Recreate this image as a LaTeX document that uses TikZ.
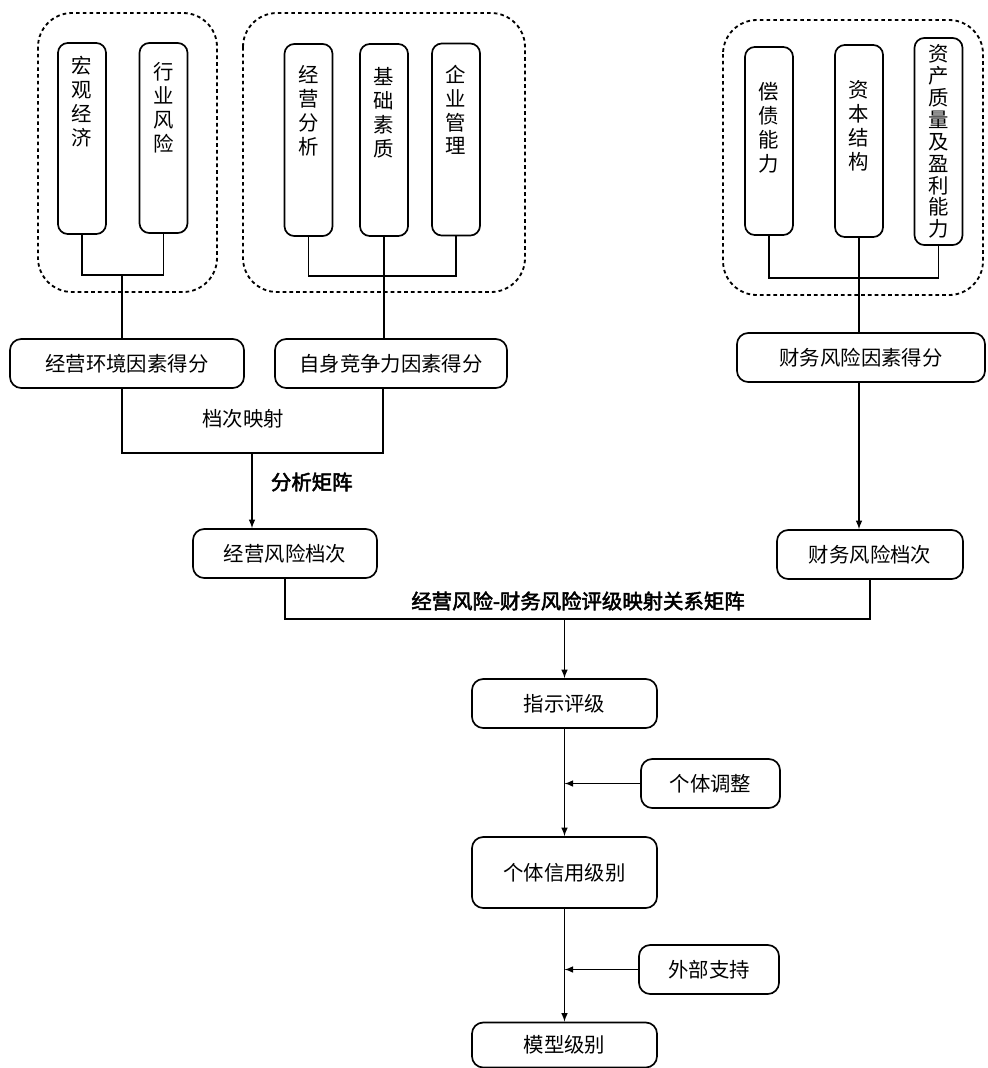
\documentclass[tikz,border=0pt]{standalone}
\usepackage{fontspec}
\newfontfamily\cjk[AutoFakeBold=2.5]{Noto Sans CJK SC}
\usepackage{tikz}

\tikzset{
  box/.style={draw, line width=1.2pt, rounded corners=8pt, inner sep=0pt, minimum height=1.225cm},
  vbox/.style={draw, line width=1.2pt, rounded corners=7pt, inner sep=0pt, minimum width=1.2cm},
  grp/.style={line width=1.3pt, dash pattern=on 2.6pt off 2.2pt, rounded corners=0.85cm},
  vtxt/.style={anchor=north, align=center, inner sep=0pt},
  link/.style={line width=1.1pt},
  arr/.style={link, -latex},
}

\begin{document}
\begin{tikzpicture}[x=0.025cm, y=-0.025cm, font=\cjk\fontsize{14.5}{17}\selectfont]

        \useasboundingbox (0,0) rectangle (988,1068);

        % dashed groups
        \draw[grp] (38,13) rectangle (217,292);
        \draw[grp] (243,13) rectangle (525,292);
        \draw[grp] (723,20) rectangle (983,295);

        % factor boxes
        \node[vbox, minimum height=4.775cm, label={[vtxt,yshift=-0.35cm]north:{宏\\观\\经\\济}}] (hg) at (82,138.5) {};
        \node[vbox, minimum height=4.75cm, label={[vtxt,yshift=-0.5cm]north:{行\\业\\风\\险}}] (hy) at (163.5,138) {};
        \node[vbox, minimum height=4.8cm, label={[vtxt,yshift=-0.55cm]north:{经\\营\\分\\析}}] (jf) at (308.5,140) {};
        \node[vbox, minimum height=4.8cm, label={[vtxt,yshift=-0.6cm]north:{基\\础\\素\\质}}] (jc) at (384,140) {};
        \node[vbox, minimum height=4.8cm, label={[vtxt,yshift=-0.55cm]north:{企\\业\\管\\理}}] (qg) at (456,139.5) {};
        \node[vbox, minimum height=4.7cm, label={[vtxt,yshift=-0.9cm]north:{偿\\债\\能\\力}}] (ch) at (769,141) {};
        \node[vbox, minimum height=4.8cm, label={[vtxt,yshift=-0.9cm]north:{资\\本\\结\\构}}] (zb) at (859,141) {};
        \node[vbox, minimum height=5.175cm, label={[vtxt,anchor=center,font=\cjk\fontsize{14.5}{15.6}\selectfont]center:{资\\产\\质\\量\\及\\盈\\利\\能\\力}}] (zl) at (938.5,141.5) {};

        % brackets
        \coordinate (b1) at (122,275);
        \coordinate (b2) at (383,276);
        \coordinate (b3) at (859,278);
        \coordinate (b4) at (252,453);
        \coordinate (b5) at (564.5,619);

        % score boxes
        \node[box, minimum width=5.85cm] (jy) at (127,363.5) {经营环境因素得分};
        \node[box, minimum width=5.8cm] (zs) at (391,363.5) {自身竞争力因素得分};
        \node[box, minimum width=6.2cm] (cw) at (861,357.5) {财务风险因素得分};

        \node[box, minimum width=4.6cm] (jyfx) at (285,553.5) {经营风险档次};
        \node[box, minimum width=4.65cm] (cwfx) at (870,554.5) {财务风险档次};

        \node[box, minimum width=4.625cm] (zspj) at (564.5,703.5) {指示评级};
        \node[box, minimum width=3.475cm] (gttz) at (710.5,783.5) {个体调整};
        \node[box, minimum width=4.625cm, minimum height=1.775cm] (gtxy) at (564.5,872.5) {个体信用级别};
        \node[box, minimum width=3.5cm] (wbzc) at (709,969.5) {外部支持};
        \node[box, minimum width=4.625cm, minimum height=1.125cm] (mxjb) at (564.5,1045) {模型级别};

        % labels
        \node (dcys) at (243,419) {档次映射};
        \node[anchor=west] (fxjz) at (266,482) {\bfseries 分析矩阵};
        \node (pjjz) at (578,601) {\bfseries 经营风险-财务风险评级映射关系矩阵};

        % connectors
        \draw[link] (hg.south) |- (b1) -| (hy.south);
        \draw[link] (b1) -- (b1 |- jy.north);
        \draw[link] (jf.south) |- (b2) -| (qg.south);
        \draw[link] (jc.south) -- (jc.south |- zs.north);
        \draw[link] (ch.south) |- (b3) -| (zl.south);
        \draw[link] (zb.south) -- (zb.south |- cw.north);

        \draw[link] (b1 |- jy.south) |- (b4) -| (b2 |- zs.south);
        \draw[arr] (b4) -- (b4 |- jyfx.north);
        \draw[arr] (b3 |- cw.south) -- (b3 |- cwfx.north);

        \draw[link] (jyfx.south) |- (b5) -| (cwfx.south);
        \draw[arr] (b5) -- (zspj.north);
        \draw[arr] (zspj) -- (gtxy);
        \draw[arr] (gttz) -- (gttz -| zspj);
        \draw[arr] (gtxy) -- (mxjb);
        \draw[arr] (wbzc) -- (wbzc -| gtxy);

    \end{tikzpicture}
\end{document}
